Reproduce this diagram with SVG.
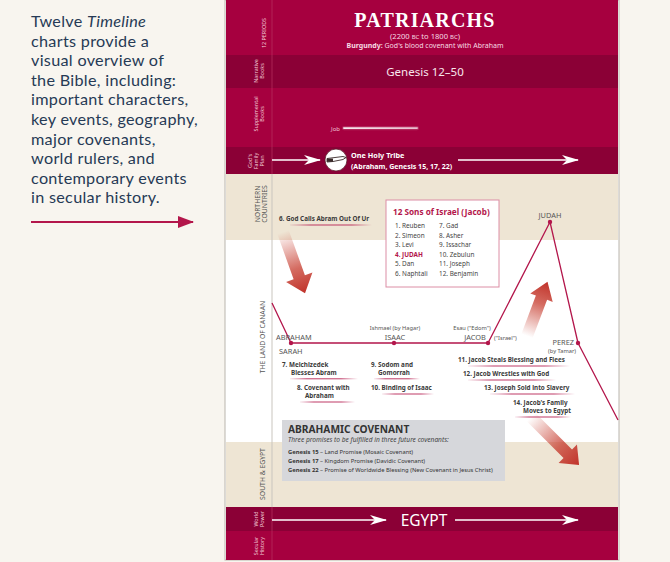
<svg xmlns="http://www.w3.org/2000/svg" width="670" height="562" viewBox="0 0 670 562">
<defs>
<style>
.f{font-family:"Noto Sans",Lato,"Liberation Sans",sans-serif}
.intro{font-family:Lato,"Noto Sans","Liberation Sans",sans-serif;font-size:16.2px;letter-spacing:0.3px;fill:#263a55}
.vl{font-family:"Noto Sans","Liberation Sans",sans-serif;font-size:5.4px;fill:#f3cfd9;text-anchor:middle}
.vg{font-family:"Noto Sans","Liberation Sans",sans-serif;font-size:6.8px;fill:#555;text-anchor:middle}
.ev{font-family:"Noto Sans","Liberation Sans",sans-serif;font-size:6.3px;font-weight:bold;fill:#3a3a3a}
.nm{font-family:"Noto Sans","Liberation Sans",sans-serif;font-size:7.4px;fill:#555}
.sm{font-family:"Noto Sans","Liberation Sans",sans-serif;font-size:5.7px;fill:#555}
.li{font-family:"Noto Sans","Liberation Sans",sans-serif;font-size:6.4px;fill:#444}
.tl{fill:none;stroke:#b3164b;stroke-width:1.3;stroke-linejoin:round}
.dot{fill:#b3164b}
.ul{fill:url(#ulg)}
.wa{stroke:#fff;stroke-width:1.6;marker-end:url(#wah)}
.big{fill:url(#arg)}
</style>
<marker id="wah" markerUnits="userSpaceOnUse" markerWidth="18" markerHeight="10" refX="16" refY="5" orient="auto">
<path d="M0,0 L17,5 L0,10 L5,5 Z" fill="#fff"/>
</marker>
<marker id="rah" markerUnits="userSpaceOnUse" markerWidth="16" markerHeight="12" refX="15" refY="6" orient="auto">
<path d="M0,0 L16,6 L0,12 Z" fill="#b3164b"/>
</marker>
<linearGradient id="ulg" x1="0" y1="0" x2="1" y2="0">
<stop offset="0" stop-color="#b3164b" stop-opacity="0.1"/>
<stop offset="0.25" stop-color="#b3164b" stop-opacity="0.85"/>
<stop offset="0.75" stop-color="#b3164b" stop-opacity="0.85"/>
<stop offset="1" stop-color="#b3164b" stop-opacity="0"/>
</linearGradient>
<linearGradient id="arg" x1="0" y1="0" x2="1" y2="0">
<stop offset="0" stop-color="#c63a2c" stop-opacity="0"/>
<stop offset="0.6" stop-color="#c63a2c" stop-opacity="0.75"/>
<stop offset="1" stop-color="#c0322a" stop-opacity="1"/>
</linearGradient>
<linearGradient id="jobg" x1="0" y1="0" x2="1" y2="0">
<stop offset="0" stop-color="#fff" stop-opacity="0.9"/>
<stop offset="1" stop-color="#fff" stop-opacity="0.7"/>
</linearGradient>
</defs>

<!-- background -->
<rect x="0" y="0" width="670" height="562" fill="#f8f5ef"/>

<!-- intro text -->
<g id="intro">
<text class="intro" x="31" y="27">Twelve <tspan font-style="italic">Timeline</tspan></text>
<text class="intro" x="31" y="46.6">charts provide a</text>
<text class="intro" x="31" y="66.2">visual overview of</text>
<text class="intro" x="31" y="85.8">the Bible, including:</text>
<text class="intro" x="31" y="105.4">important characters,</text>
<text class="intro" x="31" y="125">key events, geography,</text>
<text class="intro" x="31" y="144.6">major covenants,</text>
<text class="intro" x="31" y="164.2">world rulers, and</text>
<text class="intro" x="31" y="183.8">contemporary events</text>
<text class="intro" x="31" y="203.4">in secular history.</text>
<line x1="31" y1="222" x2="193" y2="222" stroke="#b3164b" stroke-width="1.8" marker-end="url(#rah)"/>
</g>

<!-- chart bands -->
<g id="bands">
<rect x="225" y="0" width="394" height="560" fill="#ffffff" stroke="#b9b5ae" stroke-width="1"/>
<rect x="226" y="0" width="392" height="55" fill="#a6003f"/>
<rect x="226" y="55" width="392" height="33" fill="#8b0036"/>
<rect x="226" y="88" width="392" height="59" fill="#a6003f"/>
<rect x="226" y="147" width="392" height="27" fill="#8b0036"/>
<rect x="226" y="174" width="392" height="66" fill="#eee5d4"/>
<rect x="226" y="240" width="392" height="202" fill="#ffffff"/>
<rect x="226" y="442" width="392" height="65" fill="#eee5d4"/>
<rect x="226" y="507" width="392" height="24" fill="#8b0036"/>
<rect x="226" y="531" width="392" height="29" fill="#a6003f"/>
<line x1="272" y1="0" x2="272" y2="174" stroke="#b8325f" stroke-width="0.7"/>
<line x1="272" y1="174" x2="272" y2="507" stroke="#c9c5be" stroke-width="1"/>
<line x1="272" y1="507" x2="272" y2="560" stroke="#b8325f" stroke-width="0.7"/>
</g>

<!-- row labels -->
<g id="row-labels">
<text class="vl" transform="translate(266,33) rotate(-90)">12 PERIODS</text>
<text class="vl" transform="translate(258,71) rotate(-90)">Narrative</text>
<text class="vl" transform="translate(264,71) rotate(-90)">Books</text>
<text class="vl" transform="translate(258,114) rotate(-90)">Supplemental</text>
<text class="vl" transform="translate(264,114) rotate(-90)">Books</text>
<text class="vl" transform="translate(252,161) rotate(-90)">God's</text>
<text class="vl" transform="translate(258,161) rotate(-90)">Family</text>
<text class="vl" transform="translate(264,161) rotate(-90)">Plan</text>
<text class="vg" transform="translate(259.5,204) rotate(-90)">NORTHERN</text>
<text class="vg" transform="translate(266.5,204) rotate(-90)">COUNTRIES</text>
<text class="vg" transform="translate(265,337) rotate(-90)">THE LAND OF CANAAN</text>
<text class="vg" transform="translate(265,474) rotate(-90)">SOUTH &amp; EGYPT</text>
<text class="vl" transform="translate(258,519) rotate(-90)">World</text>
<text class="vl" transform="translate(264,519) rotate(-90)">Power</text>
<text class="vl" transform="translate(258,546) rotate(-90)">Secular</text>
<text class="vl" transform="translate(264,546) rotate(-90)">History</text>
</g>

<!-- header -->
<g id="header" text-anchor="middle" fill="#ffffff">
<text x="425" y="27" font-family="'Liberation Serif','DejaVu Serif',serif" font-weight="bold" font-size="20" letter-spacing="1.2">PATRIARCHS</text>
<text class="f" x="425" y="38.5" font-size="7.6" fill="#f6dbe3">(2200 <tspan font-size="6">BC</tspan> to 1800 <tspan font-size="6">BC</tspan>)</text>
<text class="f" x="425" y="48" font-size="7" fill="#f6dbe3"><tspan font-weight="bold">Burgundy:</tspan> God's blood covenant with Abraham</text>
</g>

<g id="narrative">
<text class="f" x="425" y="76" text-anchor="middle" font-size="11.5" fill="#f8e6ec">Genesis 12–50</text>
</g>

<g id="job">
<text class="f" x="331" y="131" font-size="6" fill="#f0c4d2">Job</text>
<rect x="343" y="127.3" width="75" height="1.6" fill="url(#jobg)" rx="0.8"/>
<rect x="342" y="126" width="77" height="4.2" fill="#ffffff" opacity="0.15" rx="2"/>
</g>

<!-- connectors -->
<g id="connectors">
<line class="wa" x1="272" y1="160" x2="320" y2="160"/>
<line class="wa" x1="458" y1="160" x2="578" y2="160"/>
<line class="wa" x1="272" y1="520" x2="386" y2="520"/>
<line class="wa" x1="455" y1="520" x2="578" y2="520"/>
<polyline class="tl" points="272,303 291,343 488,343 550,222 578,343 618,420"/>
<polygon class="big" transform="translate(283,232) rotate(70.2)" points="0,-6 48,-6 48,-14 65,0 48,14 48,6 0,6"/>
<polygon class="big" transform="translate(527,336) rotate(-69.3)" points="0,-6 41,-6 41,-12 58,0 41,12 41,6 0,6"/>
<polygon class="big" transform="translate(531,417) rotate(45)" points="0,-6 52,-6 52,-13 68,0 52,13 52,6 0,6"/>
</g>

<!-- God's family plan -->
<g id="tribe">
<circle cx="336" cy="160" r="11" fill="#ffffff" stroke="#5a1a2a" stroke-width="0.8"/>
<path d="M327,158.5 L343,156.5 L346,157.5 L343,159.5 L333,161.5 L327,162 Z" fill="#ffffff" stroke="#3a2a2a" stroke-width="0.9"/>
<rect x="327" y="158.6" width="6" height="3.2" fill="#3a2a2a"/>
<text class="f" x="351" y="158" font-size="7.3" font-weight="bold" fill="#ffffff">One Holy Tribe</text>
<text class="f" x="351" y="168.5" font-size="7" font-weight="bold" fill="#ffffff">(Abraham, Genesis 15, 17, 22)</text>
</g>

<g id="egypt">
<text class="f" x="424" y="526" text-anchor="middle" font-size="15.5" fill="#ffffff">EGYPT</text>
</g>

<!-- events -->
<g id="ev6">
<text class="ev" x="279" y="221">6. God Calls Abram Out Of Ur</text>
<rect class="ul" x="290" y="224.5" width="82" height="1"/>
</g>

<g id="sons">
<rect x="386" y="200" width="113" height="87" fill="#ffffff" stroke="#dc8ea5" stroke-width="1"/>
<text class="f" x="393" y="214.5" font-size="8.2" font-weight="bold" fill="#b3164b">12 Sons of Israel (Jacob)</text>
<text class="li" x="395" y="228">1. Reuben</text>
<text class="li" x="395" y="237.5">2. Simeon</text>
<text class="li" x="395" y="247">3. Levi</text>
<text class="li" x="395" y="256.5" style="fill:#b3164b;font-weight:bold">4. JUDAH</text>
<text class="li" x="395" y="266">5. Dan</text>
<text class="li" x="395" y="275.5">6. Naphtali</text>
<text class="li" x="439" y="228">7. Gad</text>
<text class="li" x="439" y="237.5">8. Asher</text>
<text class="li" x="439" y="247">9. Issachar</text>
<text class="li" x="439" y="256.5">10. Zebulun</text>
<text class="li" x="439" y="266">11. Joseph</text>
<text class="li" x="439" y="275.5">12. Benjamin</text>
</g>

<g id="judah">
<text class="nm" x="550" y="218" text-anchor="middle">JUDAH</text>
<circle class="dot" cx="550" cy="222" r="2.2"/>
</g>
<g id="abraham">
<text class="nm" x="276" y="340">ABRAHAM</text>
<text class="nm" x="279" y="354">SARAH</text>
<circle class="dot" cx="291" cy="343" r="2.2"/>
</g>
<g id="isaac">
<text class="sm" x="395" y="330" text-anchor="middle">Ishmael (by Hagar)</text>
<text class="nm" x="395" y="340" text-anchor="middle">ISAAC</text>
<circle class="dot" cx="394" cy="343" r="2.2"/>
</g>
<g id="jacob">
<text class="sm" x="472" y="330" text-anchor="middle">Esau ("Edom")</text>
<text class="nm" x="475" y="340" text-anchor="middle">JACOB</text>
<text class="sm" x="494" y="340" font-size="5.4">("Israel")</text>
<circle class="dot" cx="488" cy="343" r="2.2"/>
</g>
<g id="perez">
<text class="nm" x="574" y="344.5" text-anchor="end">PEREZ</text>
<text class="sm" x="576" y="353" text-anchor="end" font-size="5.5">(by Tamar)</text>
<circle class="dot" cx="578" cy="343" r="2.2"/>
</g>

<g id="ev7">
<text class="ev" x="282" y="366.5">7. Melchizedek</text>
<text class="ev" x="291" y="375.2">Blesses Abram</text>
<rect class="ul" x="290" y="378.3" width="68" height="1"/>
</g>
<g id="ev8">
<text class="ev" x="297" y="389.5">8. Covenant with</text>
<text class="ev" x="305" y="398.2">Abraham</text>
<rect class="ul" x="300" y="401.5" width="55" height="1"/>
</g>
<g id="ev9">
<text class="ev" x="371" y="366.5">9. Sodom and</text>
<text class="ev" x="378" y="375.2">Gomorrah</text>
<rect class="ul" x="374" y="378.3" width="46" height="1"/>
</g>
<g id="ev10">
<text class="ev" x="371" y="390">10. Binding of Isaac</text>
<rect class="ul" x="382" y="393.5" width="52" height="1"/>
</g>
<g id="ev11">
<text class="ev" x="458" y="362">11. Jacob Steals Blessing and Flees</text>
<rect class="ul" x="468" y="365.5" width="102" height="1"/>
</g>
<g id="ev12">
<text class="ev" x="463" y="376">12. Jacob Wrestles with God</text>
<rect class="ul" x="468" y="379.5" width="88" height="1"/>
</g>
<g id="ev13">
<text class="ev" x="484" y="390">13. Joseph Sold into Slavery</text>
<rect class="ul" x="490" y="393.5" width="85" height="1"/>
</g>
<g id="ev14">
<text class="ev" x="513" y="404.5">14. Jacob's Family</text>
<text class="ev" x="523" y="413.2">Moves to Egypt</text>
<rect class="ul" x="515" y="416.5" width="56" height="1"/>
</g>

<g id="covenant">
<rect x="282" y="420" width="223" height="61" fill="#d6d7db"/>
<text class="f" x="288" y="433" font-size="10.2" font-weight="bold" fill="#333">ABRAHAMIC COVENANT</text>
<text class="f" x="288" y="441.5" font-size="6.6" font-style="italic" fill="#444">Three promises to be fulfilled in three future covenants:</text>
<text class="f" x="288" y="454" font-size="5.8" fill="#333"><tspan font-weight="bold">Genesis 15</tspan> – Land Promise (Mosaic Covenant)</text>
<text class="f" x="288" y="463" font-size="5.8" fill="#333"><tspan font-weight="bold">Genesis 17</tspan> – Kingdom Promise (Davidic Covenant)</text>
<text class="f" x="288" y="472" font-size="5.8" fill="#333"><tspan font-weight="bold">Genesis 22</tspan> – Promise of Worldwide Blessing (New Covenant in Jesus Christ)</text>
</g>
</svg>
